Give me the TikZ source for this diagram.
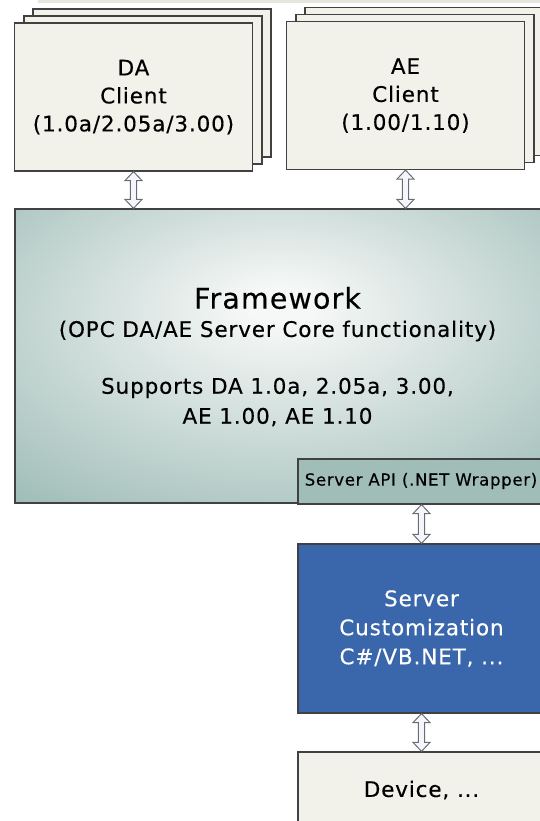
\documentclass[tikz,border=0pt]{standalone}
\usepackage{fontspec}
\setmainfont{DejaVu Sans}[LetterSpace=4, FakeBold=0.3]
\usetikzlibrary{calc}

% Colores del diagrama
\definecolor{boxbeige}{RGB}{242,242,234}
\definecolor{stripgray}{RGB}{230,230,222}
\definecolor{boxborder}{RGB}{65,65,65}
\definecolor{fwlight}{RGB}{246,248,247}
\definecolor{fwteal}{RGB}{151,183,177}
\definecolor{apiteal}{RGB}{160,189,184}
\definecolor{custblue}{RGB}{58,102,171}
\definecolor{arrowgray}{RGB}{105,108,118}
\definecolor{arrowfill}{RGB}{244,246,251}

% Sombreado radial del bloque central (centro claro, bordes verdosos)
\pgfdeclareradialshading{fwshade}{\pgfpoint{0bp}{9bp}}{color(0bp)=(fwlight); color(3bp)=(fwlight); color(42bp)=(fwteal); color(80bp)=(fwteal)}

\begin{document}
\begin{tikzpicture}[
    x=1pt, y=-1pt,
    % Estilo de las cajas de cliente
    clientbox/.style={
        draw=boxborder, fill=boxbeige, line width=1.2pt,
        minimum width=238pt, minimum height=148pt,
        align=center, text=black,
        font={\fontsize{21.5}{28}\selectfont}
    },
    % Estilo de las cajas del lado servidor
    serverbox/.style={
        draw=boxborder, line width=1.2pt,
        minimum width=247pt, align=center,
        font={\fontsize{21.5}{29}\selectfont}
    },
    % Flecha doble hueca entre dos nodos (vertical)
    blockarrow/.style={
        draw=arrowgray, fill=arrowfill, line width=1pt, line join=miter,
        to path={let \p1=(\tikztostart), \p2=(\tikztotarget) in
            (\x1,\y1) -- (\x1+8.5pt,\y1-9pt) -- (\x1+3.2pt,\y1-9pt)
            -- (\x1+3.2pt,\y2+9pt) -- (\x1+8.5pt,\y2+9pt) -- (\x1,\y2)
            -- (\x1-8.5pt,\y2+9pt) -- (\x1-3.2pt,\y2+9pt)
            -- (\x1-3.2pt,\y1-9pt) -- (\x1-8.5pt,\y1-9pt) -- cycle}
    }
]
    % Marco de la figura
    \useasboundingbox (0,0) rectangle (540,821);
    \clip (0,0) rectangle (540,821);

    % Franja superior (borde de un elemento cortado)
    \fill[stripgray] (38,0) rectangle (545,3);

    % 1. Pilas de clientes (hojas de fondo)
    % Parámetros: {índice / desplazamiento x / desplazamiento y}
    \foreach \k/\dx/\dy in {2/18.5/14, 1/9.5/7}{
        \node[clientbox] (daback\k) at (133.5+\dx, 97-\dy) {};
        \node[clientbox] (aeback\k) at (405.5+\dx, 95.5-\dy) {};
    }

    % Hojas frontales con el texto
    \node[clientbox] (dabox) at (133.5,97) {DA\\Client\\(1.0a/2.05a/3.00)};
    \node[clientbox] (aebox) at (405.5,95.5) {AE\\Client\\(1.00/1.10)};

    % 2. Bloque central del framework
    \node[draw=boxborder, line width=1.2pt, shading=fwshade,
          minimum width=530pt, minimum height=294pt] (fw) at (280,356) {};

    \node[font={\fontsize{28.5}{30}\selectfont}] (fwtitle) at (277.5,298) {Framework};
    \node[font={\fontsize{21.5}{28}\selectfont}] (fwsub) at (277.5,331) {(OPC DA/AE Server Core functionality)};
    \node[font={\fontsize{21.5}{30}\selectfont}, align=center] (fwver) at (277.5,402)
        {Supports DA 1.0a, 2.05a, 3.00,\\AE 1.00, AE 1.10};

    % Envoltorio .NET en la esquina inferior derecha
    \node[serverbox, fill=apiteal, minimum height=45pt] (api) at (421.5,481.5) {};
    \node[font={\fontsize{16.6}{18}\selectfont}] (apitext) at (421,481) {Server API (.NET Wrapper)};

    % 3. Personalización del servidor y dispositivo
    \node[serverbox, fill=custblue, text=white, minimum height=169pt] (custom) at (421.5,628.5)
        {Server\\Customization\\C\#/VB.NET, ...};
    \node[serverbox, fill=boxbeige, minimum height=76pt] (device) at (421.5,790) {Device, ...};

    % 4. Flechas dobles entre capas
    \draw[blockarrow] (dabox.south) to (dabox.south |- fw.north);
    \draw[blockarrow] (aebox.south) to (aebox.south |- fw.north);
    \draw[blockarrow] (api.south) to (api.south |- custom.north);
    \draw[blockarrow] (custom.south) to (custom.south |- device.north);

\end{tikzpicture}
\end{document}
